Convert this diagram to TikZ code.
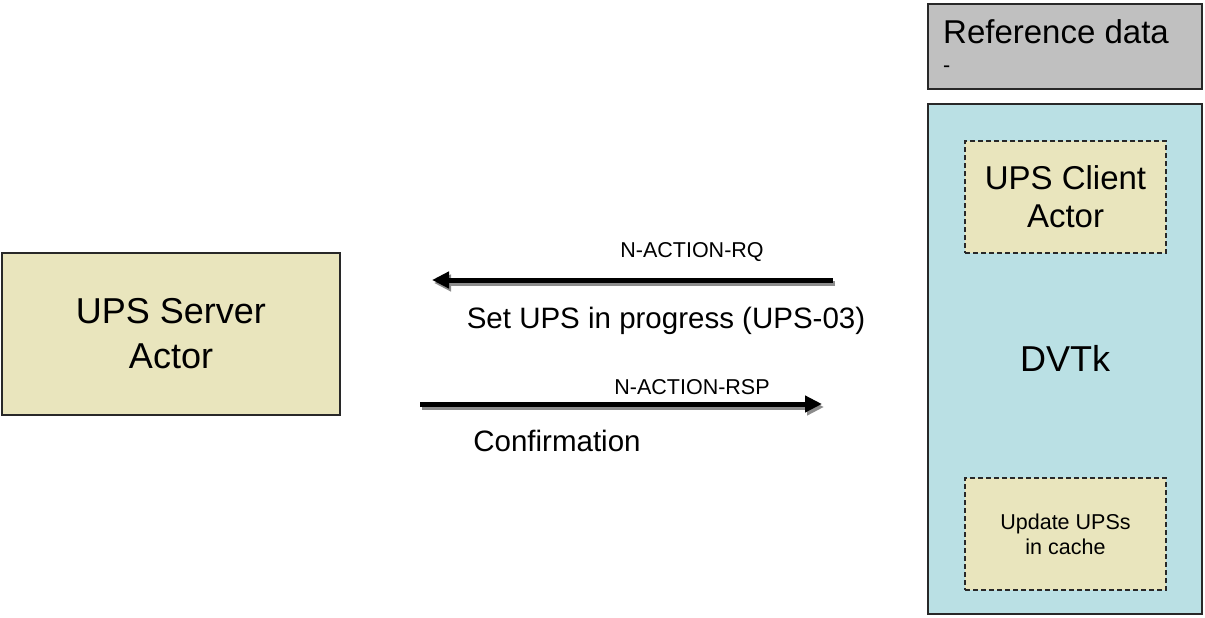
\documentclass[tikz,border=0pt]{standalone}
\usepackage{fontspec}
\setmainfont{Liberation Sans}
\usetikzlibrary{arrows.meta,positioning}
\definecolor{actorfill}{RGB}{233,229,189}
\definecolor{dvtkfill}{RGB}{186,224,228}
\definecolor{reffill}{RGB}{192,192,192}
\definecolor{boxline}{RGB}{40,40,40}
\newcommand{\actorfont}{\fontsize{36}{45}\selectfont}
\newcommand{\clientfont}{\fontsize{33}{38}\selectfont}
\newcommand{\msgfont}{\fontsize{29.5}{34}\selectfont}
\newcommand{\smallfont}{\fontsize{21.5}{25}\selectfont}

\begin{document}
\begin{tikzpicture}[x=1pt,y=-1pt,
    box/.style={draw=boxline, line width=1.3pt, inner sep=0pt, align=center},
    actor/.style={box, fill=actorfill},
    inner/.style={box, fill=actorfill, dashed, dash pattern=on 5pt off 3pt},
    msg/.style={line width=5pt, -{Triangle[length=17pt,width=16pt]}},
    shade/.style={msg, draw=black!45, fill=black!45}
  ]
    \useasboundingbox (0,0) rectangle (1205,618);

    % left actor
    \node[actor, font=\actorfont, minimum width=338pt, minimum height=162pt] (server) at (171,334)
        {UPS Server\\Actor};

    % right side
    \node[box, fill=reffill, minimum width=274pt, minimum height=85pt] (ref) at (1065,46.5) {};
    \node[anchor=base west, inner sep=0pt, font=\clientfont] (reftitle) at (943,44) {Reference data};
    \node[anchor=base west, inner sep=0pt, font=\smallfont] (refsub) at (943,73) {-};

    \node[box, fill=dvtkfill, minimum width=274pt, minimum height=510pt] (dvtk) at (1065,359) {};
    \node[anchor=base, inner sep=0pt, font=\actorfont] (dvtklabel) at (1065,371) {DVTk};
    \node[inner, font=\clientfont, minimum width=201pt, minimum height=112pt] (client) at (1065.5,197)
        {UPS Client\\Actor};
    \node[inner, font=\smallfont, minimum width=201pt, minimum height=112pt] (cache) at (1065.5,534)
        {Update UPSs\\in cache};

    % messages
    \coordinate (rqstart) at (833,280);
    \coordinate (rqend) at (432,280);
    \coordinate (rspstart) at (420,404);
    \coordinate (rspend) at (822,404);

    \draw[shade] ([shift={(2,3)}]rqstart) -- ([shift={(2,3)}]rqend);
    \draw[msg] (rqstart) -- (rqend);
    \draw[shade] ([shift={(2,3)}]rspstart) -- ([shift={(2,3)}]rspend);
    \draw[msg] (rspstart) -- (rspend);

    \node[anchor=base, inner sep=0pt, font=\smallfont] (rqlabel) at (692,257) {N-ACTION-RQ};
    \node[anchor=base, inner sep=0pt, font=\msgfont] (setlabel) at (666,328) {Set UPS in progress (UPS-03)};
    \node[anchor=base, inner sep=0pt, font=\smallfont] (rsplabel) at (692,394) {N-ACTION-RSP};
    \node[anchor=base, inner sep=0pt, font=\msgfont] (conflabel) at (557,451) {Confirmation};
\end{tikzpicture}
\end{document}
